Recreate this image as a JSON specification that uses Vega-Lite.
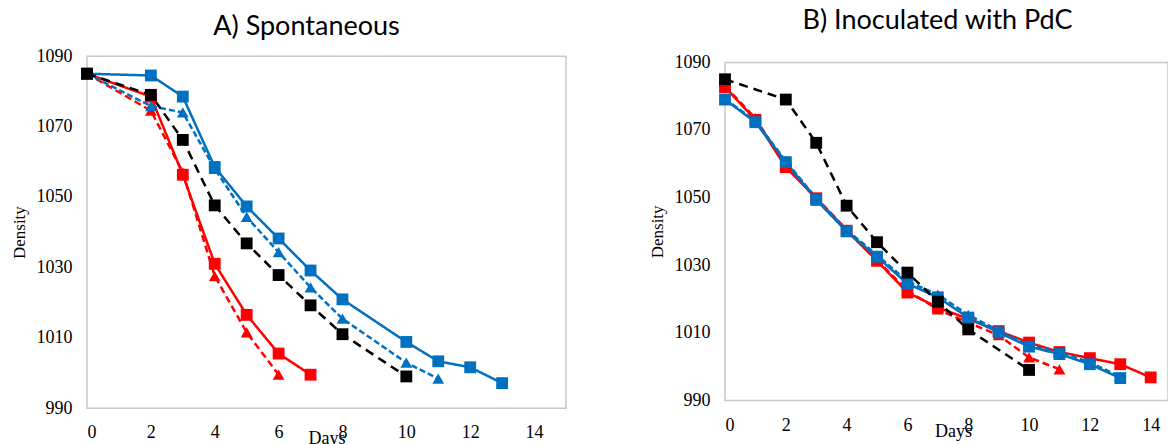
{
  "$schema": "https://vega.github.io/schema/vega-lite/v6.json",
  "padding": {"left": 9, "top": 6, "right": 0, "bottom": 0},
  "background": "white",
  "center": true,
  "datasets": {
    "d": [
      {"panel": "A", "s": "1 red dashed", "day": 0, "density": 1085},
      {"panel": "A", "s": "1 red dashed", "day": 2, "density": 1074.5},
      {"panel": "A", "s": "1 red dashed", "day": 3, "density": 1057},
      {"panel": "A", "s": "1 red dashed", "day": 4, "density": 1027.5},
      {"panel": "A", "s": "1 red dashed", "day": 5, "density": 1011.5},
      {"panel": "A", "s": "1 red dashed", "day": 6, "density": 999.5},
      {"panel": "A", "s": "2 red solid", "day": 0, "density": 1085},
      {"panel": "A", "s": "2 red solid", "day": 2, "density": 1078.5},
      {"panel": "A", "s": "2 red solid", "day": 3, "density": 1056.3},
      {"panel": "A", "s": "2 red solid", "day": 4, "density": 1031},
      {"panel": "A", "s": "2 red solid", "day": 5, "density": 1016.5},
      {"panel": "A", "s": "2 red solid", "day": 6, "density": 1005.5},
      {"panel": "A", "s": "2 red solid", "day": 7, "density": 999.5},
      {"panel": "A", "s": "3 blue dashed", "day": 0, "density": 1085},
      {"panel": "A", "s": "3 blue dashed", "day": 2, "density": 1075.8},
      {"panel": "A", "s": "3 blue dashed", "day": 3, "density": 1074},
      {"panel": "A", "s": "3 blue dashed", "day": 4, "density": 1058},
      {"panel": "A", "s": "3 blue dashed", "day": 5, "density": 1044.3},
      {"panel": "A", "s": "3 blue dashed", "day": 6, "density": 1034.3},
      {"panel": "A", "s": "3 blue dashed", "day": 7, "density": 1024.3},
      {"panel": "A", "s": "3 blue dashed", "day": 8, "density": 1015.4},
      {"panel": "A", "s": "3 blue dashed", "day": 10, "density": 1002.9},
      {"panel": "A", "s": "3 blue dashed", "day": 11, "density": 998.4},
      {"panel": "A", "s": "4 blue solid", "day": 0, "density": 1085},
      {"panel": "A", "s": "4 blue solid", "day": 2, "density": 1084.5},
      {"panel": "A", "s": "4 blue solid", "day": 3, "density": 1078.5},
      {"panel": "A", "s": "4 blue solid", "day": 4, "density": 1058.5},
      {"panel": "A", "s": "4 blue solid", "day": 5, "density": 1047.3},
      {"panel": "A", "s": "4 blue solid", "day": 6, "density": 1038.2},
      {"panel": "A", "s": "4 blue solid", "day": 7, "density": 1029.1},
      {"panel": "A", "s": "4 blue solid", "day": 8, "density": 1020.9},
      {"panel": "A", "s": "4 blue solid", "day": 10, "density": 1008.8},
      {"panel": "A", "s": "4 blue solid", "day": 11, "density": 1003.3},
      {"panel": "A", "s": "4 blue solid", "day": 12, "density": 1001.6},
      {"panel": "A", "s": "4 blue solid", "day": 13, "density": 997.1},
      {"panel": "A", "s": "5 black dashed", "day": 0, "density": 1085},
      {"panel": "A", "s": "5 black dashed", "day": 2, "density": 1079},
      {"panel": "A", "s": "5 black dashed", "day": 3, "density": 1066.2},
      {"panel": "A", "s": "5 black dashed", "day": 4, "density": 1047.6},
      {"panel": "A", "s": "5 black dashed", "day": 5, "density": 1036.8},
      {"panel": "A", "s": "5 black dashed", "day": 6, "density": 1027.8},
      {"panel": "A", "s": "5 black dashed", "day": 7, "density": 1019.2},
      {"panel": "A", "s": "5 black dashed", "day": 8, "density": 1011},
      {"panel": "A", "s": "5 black dashed", "day": 10, "density": 999},
      {"panel": "B", "s": "1 red dashed", "day": 0, "density": 1083},
      {"panel": "B", "s": "1 red dashed", "day": 1, "density": 1073.5},
      {"panel": "B", "s": "1 red dashed", "day": 2, "density": 1059.5},
      {"panel": "B", "s": "1 red dashed", "day": 3, "density": 1050},
      {"panel": "B", "s": "1 red dashed", "day": 4, "density": 1040.5},
      {"panel": "B", "s": "1 red dashed", "day": 5, "density": 1031.5},
      {"panel": "B", "s": "1 red dashed", "day": 6, "density": 1022.5},
      {"panel": "B", "s": "1 red dashed", "day": 7, "density": 1016.9},
      {"panel": "B", "s": "1 red dashed", "day": 8, "density": 1013},
      {"panel": "B", "s": "1 red dashed", "day": 9, "density": 1009.3},
      {"panel": "B", "s": "1 red dashed", "day": 10, "density": 1002.7},
      {"panel": "B", "s": "1 red dashed", "day": 11, "density": 999.2},
      {"panel": "B", "s": "2 red solid", "day": 0, "density": 1082.7},
      {"panel": "B", "s": "2 red solid", "day": 1, "density": 1073},
      {"panel": "B", "s": "2 red solid", "day": 2, "density": 1059},
      {"panel": "B", "s": "2 red solid", "day": 3, "density": 1049.8},
      {"panel": "B", "s": "2 red solid", "day": 4, "density": 1040.2},
      {"panel": "B", "s": "2 red solid", "day": 5, "density": 1031.3},
      {"panel": "B", "s": "2 red solid", "day": 6, "density": 1021.9},
      {"panel": "B", "s": "2 red solid", "day": 7, "density": 1017.5},
      {"panel": "B", "s": "2 red solid", "day": 8, "density": 1014.1},
      {"panel": "B", "s": "2 red solid", "day": 9, "density": 1010.5},
      {"panel": "B", "s": "2 red solid", "day": 10, "density": 1007.1},
      {"panel": "B", "s": "2 red solid", "day": 11, "density": 1004.3},
      {"panel": "B", "s": "2 red solid", "day": 12, "density": 1002.5},
      {"panel": "B", "s": "2 red solid", "day": 13, "density": 1000.7},
      {"panel": "B", "s": "2 red solid", "day": 14, "density": 996.8},
      {"panel": "B", "s": "3 blue dashed", "day": 0, "density": 1079.2},
      {"panel": "B", "s": "3 blue dashed", "day": 1, "density": 1072.7},
      {"panel": "B", "s": "3 blue dashed", "day": 2, "density": 1060.8},
      {"panel": "B", "s": "3 blue dashed", "day": 3, "density": 1049.8},
      {"panel": "B", "s": "3 blue dashed", "day": 4, "density": 1040.4},
      {"panel": "B", "s": "3 blue dashed", "day": 5, "density": 1033},
      {"panel": "B", "s": "3 blue dashed", "day": 6, "density": 1025.2},
      {"panel": "B", "s": "3 blue dashed", "day": 7, "density": 1021.3},
      {"panel": "B", "s": "3 blue dashed", "day": 8, "density": 1015.3},
      {"panel": "B", "s": "3 blue dashed", "day": 9, "density": 1010.6},
      {"panel": "B", "s": "3 blue dashed", "day": 10, "density": 1006.2},
      {"panel": "B", "s": "3 blue dashed", "day": 11, "density": 1004.3},
      {"panel": "B", "s": "3 blue dashed", "day": 12, "density": 1001.2},
      {"panel": "B", "s": "3 blue dashed", "day": 13, "density": 997},
      {"panel": "B", "s": "4 blue solid", "day": 0, "density": 1079},
      {"panel": "B", "s": "4 blue solid", "day": 1, "density": 1072.3},
      {"panel": "B", "s": "4 blue solid", "day": 2, "density": 1060.5},
      {"panel": "B", "s": "4 blue solid", "day": 3, "density": 1049.3},
      {"panel": "B", "s": "4 blue solid", "day": 4, "density": 1040},
      {"panel": "B", "s": "4 blue solid", "day": 5, "density": 1032.5},
      {"panel": "B", "s": "4 blue solid", "day": 6, "density": 1024.5},
      {"panel": "B", "s": "4 blue solid", "day": 7, "density": 1020.5},
      {"panel": "B", "s": "4 blue solid", "day": 8, "density": 1014.5},
      {"panel": "B", "s": "4 blue solid", "day": 9, "density": 1010.1},
      {"panel": "B", "s": "4 blue solid", "day": 10, "density": 1005.9},
      {"panel": "B", "s": "4 blue solid", "day": 11, "density": 1003.7},
      {"panel": "B", "s": "4 blue solid", "day": 12, "density": 1000.7},
      {"panel": "B", "s": "4 blue solid", "day": 13, "density": 996.6},
      {"panel": "B", "s": "5 black dashed", "day": 0, "density": 1085},
      {"panel": "B", "s": "5 black dashed", "day": 2, "density": 1079},
      {"panel": "B", "s": "5 black dashed", "day": 3, "density": 1066.2},
      {"panel": "B", "s": "5 black dashed", "day": 4, "density": 1047.6},
      {"panel": "B", "s": "5 black dashed", "day": 5, "density": 1036.8},
      {"panel": "B", "s": "5 black dashed", "day": 6, "density": 1027.8},
      {"panel": "B", "s": "5 black dashed", "day": 7, "density": 1019.2},
      {"panel": "B", "s": "5 black dashed", "day": 8, "density": 1011},
      {"panel": "B", "s": "5 black dashed", "day": 10, "density": 999}
    ]
  },
  "config": {
    "view": {"stroke": "#c8c8c8", "strokeWidth": 1.5},
    "axis": {"grid": false, "ticks": false, "tickSize": 0, "domain": false, "labelFont": "Liberation Serif", "labelFontSize": 18, "labelColor": "#000", "titleFont": "Liberation Serif", "titleFontWeight": "normal", "titleColor": "#000"},
    "title": {"font": "Lato", "fontSize": 27, "fontWeight": "normal", "color": "#000"},
    "concat": {"spacing": 80}
  },
  "hconcat": [
    {
      "width": 479,
      "height": 352,
      "title": {"text": "A) Spontaneous", "offset": 6, "dx": -20, "frame": "group"},
      "data": {"name": "d"},
      "transform": [{"filter": "datum.panel == 'A'"}],
      "encoding": {
        "x": {"field": "day", "type": "quantitative", "scale": {"domain": [0, 15], "nice": false}, "axis": {"values": [0, 2, 4, 6, 8, 10, 12, 14], "title": "Days", "labelPadding": 15, "titleFontSize": 18, "titleBaseline": "alphabetic", "titleY": 35}},
        "y": {"field": "density", "type": "quantitative", "scale": {"domain": [990, 1090], "nice": false, "zero": false}, "axis": {"values": [990, 1010, 1030, 1050, 1070, 1090], "format": "d", "title": "Density", "labelPadding": 15, "titleFontSize": 17, "titleX": -59}},
        "color": {"field": "s", "type": "nominal", "legend": null, "scale": {"domain": ["1 red dashed", "2 red solid", "3 blue dashed", "4 blue solid", "5 black dashed"], "range": ["#ff0000", "#ff0000", "#0070c0", "#0070c0", "#000000"]}}
      },
      "layer": [
        {"mark": {"type": "line"}, "encoding": {
          "strokeDash": {"field": "s", "type": "nominal", "legend": null, "scale": {"domain": ["1 red dashed", "2 red solid", "3 blue dashed", "4 blue solid", "5 black dashed"], "range": [[7, 4], [1, 0], [6, 3], [1, 0], [9, 6]]}},
          "strokeWidth": {"field": "s", "type": "nominal", "legend": null, "scale": {"domain": ["1 red dashed", "2 red solid", "3 blue dashed", "4 blue solid", "5 black dashed"], "range": [2.5, 2.5, 2, 2, 3]}}
        }},
        {"mark": {"type": "point", "filled": true, "opacity": 1, "size": 140}, "encoding": {
          "shape": {"field": "s", "type": "nominal", "legend": null, "scale": {"domain": ["1 red dashed", "2 red solid", "3 blue dashed", "4 blue solid", "5 black dashed"], "range": ["triangle-up", "square", "triangle-up", "square", "square"]}}
        }}
      ]
    },
    {
      "width": 443,
      "height": 338,
      "title": {"text": "B) Inoculated with PdC", "offset": 18.5, "dx": -9, "frame": "group"},
      "data": {"name": "d"},
      "transform": [{"filter": "datum.panel == 'B'"}],
      "encoding": {
        "x": {"field": "day", "type": "quantitative", "scale": {"domain": [0, 14.57], "nice": false}, "axis": {"values": [0, 2, 4, 6, 8, 10, 12, 14], "title": "Days", "labelPadding": 16, "titleFontSize": 18, "titleBaseline": "alphabetic", "titleY": 36.5, "titleX": 228}},
        "y": {"field": "density", "type": "quantitative", "scale": {"domain": [990, 1090], "nice": false, "zero": false}, "axis": {"values": [990, 1010, 1030, 1050, 1070, 1090], "format": "d", "title": "Density", "labelPadding": 15, "titleFontSize": 17, "titleX": -59}},
        "color": {"field": "s", "type": "nominal", "legend": null, "scale": {"domain": ["1 red dashed", "2 red solid", "3 blue dashed", "4 blue solid", "5 black dashed"], "range": ["#ff0000", "#ff0000", "#0070c0", "#0070c0", "#000000"]}}
      },
      "layer": [
        {"mark": {"type": "line"}, "encoding": {
          "strokeDash": {"field": "s", "type": "nominal", "legend": null, "scale": {"domain": ["1 red dashed", "2 red solid", "3 blue dashed", "4 blue solid", "5 black dashed"], "range": [[7, 4], [1, 0], [6, 3], [1, 0], [9, 6]]}},
          "strokeWidth": {"field": "s", "type": "nominal", "legend": null, "scale": {"domain": ["1 red dashed", "2 red solid", "3 blue dashed", "4 blue solid", "5 black dashed"], "range": [2.5, 2.5, 2.5, 2.5, 3]}}
        }},
        {"mark": {"type": "point", "filled": true, "opacity": 1, "size": 140}, "encoding": {
          "shape": {"field": "s", "type": "nominal", "legend": null, "scale": {"domain": ["1 red dashed", "2 red solid", "3 blue dashed", "4 blue solid", "5 black dashed"], "range": ["triangle-up", "square", "triangle-up", "square", "square"]}}
        }}
      ]
    }
  ],
  "resolve": {"scale": {"x": "independent", "y": "independent"}}
}
